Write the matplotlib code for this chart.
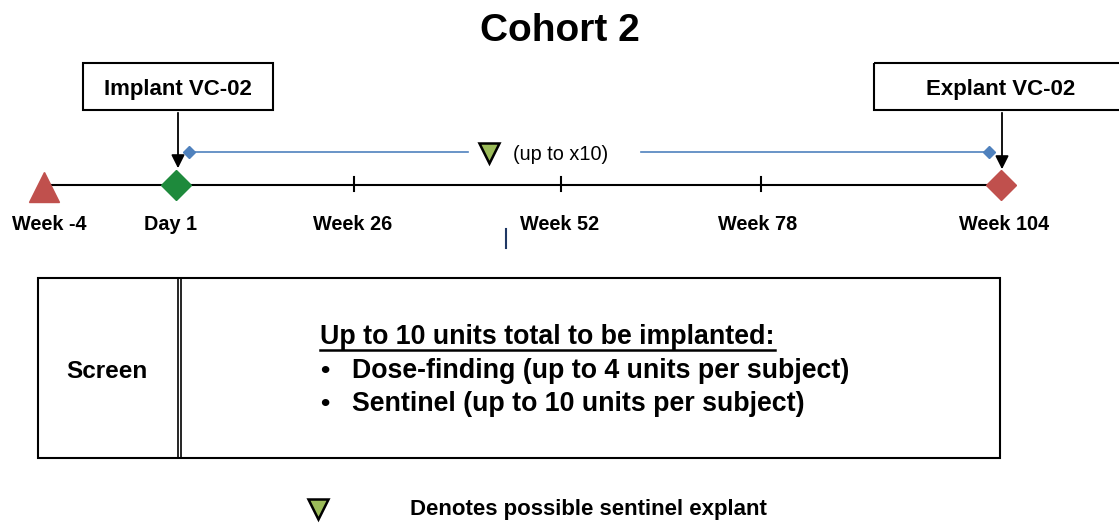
import matplotlib
matplotlib.use("Agg")
import matplotlib.pyplot as plt
from matplotlib.patches import Rectangle

plt.rcParams['font.family'] = ['Liberation Sans', 'DejaVu Sans']

# timeline milestones (label, x position in px on the drawing)
milestone_labels = ["Week -4", "Day 1", "Week 26", "Week 52", "Week 78", "Week 104"]
milestone_x = [44, 176, 354, 561, 761, 1001]
label_x = [49, 171, 353, 560, 758, 1004]
tick_x = [354, 561, 761]

title = "Cohort 2"
implant_txt = "Implant VC-02"
explant_txt = "Explant VC-02"
sentinel_txt = "(up to x10)"
heading = "Up to 10 units total to be implanted:"
bullets = ["Dose-finding (up to 4 units per subject)", "Sentinel (up to 10 units per subject)"]
legend_txt = "Denotes possible sentinel explant"

RED = "#C0504D"
GREEN = "#1E8A3C"
BLUE = "#4F81BD"
LGREEN = "#9BBB59"

W, H = 1119, 523
fig = plt.figure(figsize=(W/100, H/100), dpi=100)
ax = fig.add_axes([0, 0, 1, 1])
ax.set_xlim(0, W)
ax.set_ylim(H, 0)
ax.axis("off")

ax.text(560, 31, title, ha="center", va="center", fontsize=28, fontweight="bold")

# main timeline
y0 = 185
ax.plot([milestone_x[0], milestone_x[-1]], [y0, y0], color="black", lw=1.5, zorder=1)
for x in tick_x:
    ax.plot([x, x], [y0-8, y0+6], color="black", lw=1.5)
for lab, x in zip(milestone_labels, label_x):
    ax.text(x, 225, lab, ha="center", va="center", fontsize=14.3, fontweight="bold")

ax.plot(milestone_x[0], y0+2, marker="^", ms=21, color=RED, mec=RED, zorder=3)
ax.plot(milestone_x[1], y0, marker="D", ms=15, color=GREEN, mec=GREEN, zorder=3)
ax.plot(milestone_x[-1], y0, marker="D", ms=15, color=RED, mec=RED, zorder=3)

# sentinel window
yb = 152
ax.plot([189, 468], [yb, yb], color=BLUE, lw=1.2)
ax.plot([641, 989], [yb, yb], color=BLUE, lw=1.2)
ax.plot([189, 989], [yb, yb], ls="none", marker="D", ms=6, color=BLUE)
ax.plot(489, yb + 1, marker="v", ms=14, color=LGREEN, mec="black", mew=1.8)
ax.text(513, yb + 2, sentinel_txt, ha="left", va="center", fontsize=14.3)

# callout boxes
ax.add_patch(Rectangle((83, 63), 190, 47, fill=False, ec="black", lw=1.5))
ax.text(178, 89, implant_txt, ha="center", va="center", fontsize=16, fontweight="bold")
ax.annotate("", xy=(178, 171), xytext=(178, 110),
            arrowprops=dict(arrowstyle="-|>", color="black", lw=1.3, mutation_scale=20))
ax.add_patch(Rectangle((874, 63), 250, 47, fill=False, ec="black", lw=1.5))
ax.text(1001, 89, explant_txt, ha="center", va="center", fontsize=16, fontweight="bold")
ax.annotate("", xy=(1002, 172), xytext=(1002, 110),
            arrowprops=dict(arrowstyle="-|>", color="black", lw=1.3, mutation_scale=20))

ax.plot([506, 506], [229, 248], color="#1F3864", lw=1.5)

# lower box
ax.add_patch(Rectangle((38, 278), 962, 180, fill=False, ec="black", lw=1.5))
ax.plot([178, 178], [278, 458], color="black", lw=1.2)
ax.plot([181, 181], [278, 458], color="black", lw=1.2)
ax.text(107, 372, "Screen", ha="center", va="center", fontsize=17.5, fontweight="bold")

t = ax.text(320, 337, heading, ha="left", va="center", fontsize=19.3, fontweight="bold")
fig.canvas.draw()
bb = t.get_window_extent().transformed(ax.transData.inverted())
ax.plot([bb.x0, bb.x1], [350, 350], color="black", lw=1.8)
for i, b in enumerate(bullets):
    yy = 371 + 33*i
    ax.text(320, yy, "\u2022", ha="left", va="center", fontsize=19, fontweight="bold")
    ax.text(352, yy, b, ha="left", va="center", fontsize=19.3, fontweight="bold")

# legend
ax.plot(318, 509, marker="v", ms=14, color=LGREEN, mec="black", mew=1.8)
ax.text(410, 510, legend_txt, ha="left", va="center", fontsize=16, fontweight="bold")

fig.savefig("out.png", dpi=100)
